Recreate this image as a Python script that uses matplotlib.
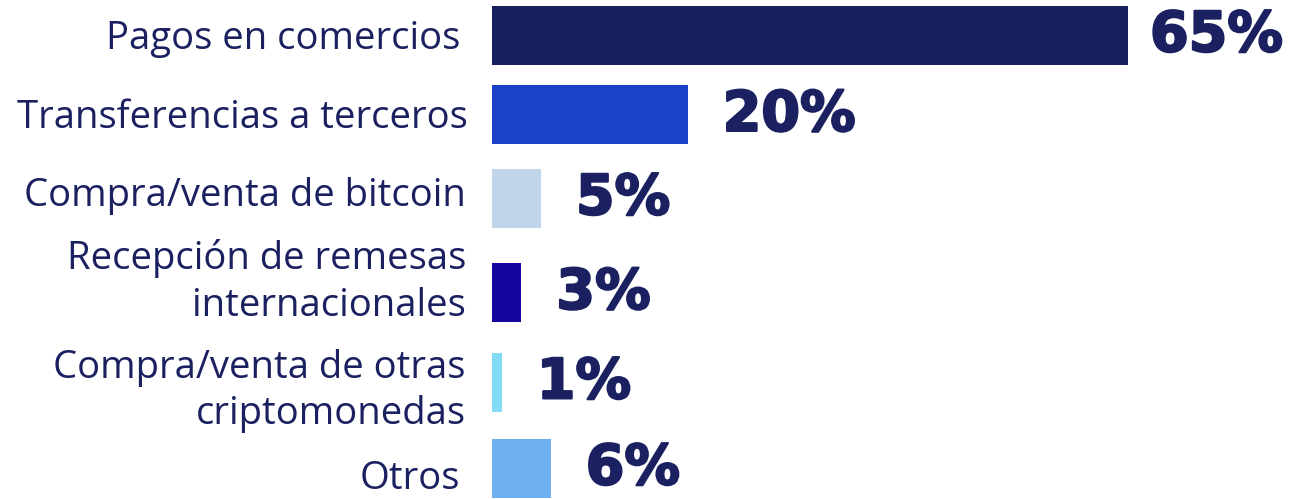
import matplotlib
matplotlib.use("Agg")
import matplotlib.pyplot as plt
import matplotlib.patheffects as pe

# Uses of the wallet, share of respondents (%)
categories = [
    "Pagos en comercios",
    "Transferencias a terceros",
    "Compra/venta de bitcoin",
    "Recepción de remesas\ninternacionales",
    "Compra/venta de otras\ncriptomonedas",
    "Otros",
]
values = [65, 20, 5, 3, 1, 6]
value_labels = ["65%", "20%", "5%", "3%", "1%", "6%"]

bar_colors = ["#161f5c", "#1c41c9", "#c0d5ea", "#15039e", "#82dcf5", "#6eb0f0"]
text_color = "#1b2160"

W, H = 1309, 499
fig = plt.figure(figsize=(W / 100, H / 100), dpi=100)
ax = fig.add_axes([0, 0, 1, 1])

# pixel layout: bar zero line at x=492, 65% reaches x=1128
px_per_unit = (1128 - 492) / 65
ax.set_xlim(-492 / px_per_unit, (W - 492) / px_per_unit)
ax.set_ylim(H, 0)

bar_centers = [35, 114.5, 198, 292.5, 382, 468]
label_centers = [39, 118, 196, 282, 391, 479]
label_right_px = [460, 468, 466, 466, 466, 460]
bar_height = 59

ax.barh(bar_centers, values, height=bar_height, color=bar_colors, left=0)

for yc, v, lab in zip(bar_centers, values, value_labels):
    gap = 22 if v == max(values) else 35
    ax.annotate(lab, xy=(v, yc), xytext=(gap * 0.72, -1), textcoords="offset points",
                ha="left", va="center", fontsize=40, fontweight="bold",
                family="DejaVu Sans", color=text_color,
                path_effects=[pe.withStroke(linewidth=1.6, foreground=text_color)])

for yc, xr, cat in zip(label_centers, label_right_px, categories):
    ax.text((xr - 492) / px_per_unit, yc, cat, ha="right", va="center", fontsize=27.5,
            family="Open Sans", fontweight="medium", color=text_color, linespacing=1.3,
            multialignment="right")

ax.axis("off")
fig.savefig("out.png", dpi=100)
